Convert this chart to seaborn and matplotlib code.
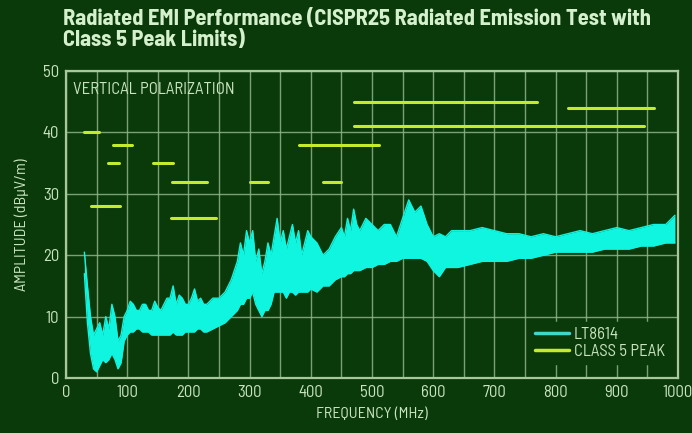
import matplotlib
matplotlib.use("Agg")
import matplotlib.pyplot as plt
import seaborn as sns
import pandas as pd
from matplotlib.ticker import MultipleLocator
from matplotlib.lines import Line2D

# ---------------- data ----------------
freq = [30, 35, 40, 45, 50, 55, 60, 65, 70, 75, 80, 85, 90, 95, 100, 105, 110, 115, 120, 125,
        130, 135, 140, 145, 150, 155, 160, 165, 170, 175, 180, 185, 190, 195, 200, 205, 210, 215,
        220, 225, 230, 240, 250, 260, 270, 280, 285, 290, 295, 300,
        305, 310, 315, 320, 325, 330, 335, 340, 345, 350, 355, 360, 365, 370, 375, 380, 385, 390,
        395, 400, 410, 420, 430, 440, 450, 455, 460, 465, 470, 475, 480, 490, 500, 510, 520, 530,
        540, 550, 560, 570, 580, 590, 600, 610, 620, 630, 640, 660, 680, 700, 720, 740, 760, 780,
        800, 820, 840, 860, 880, 900, 920, 940, 960, 980, 995]
lt_high = [20.5, 15, 10, 7, 8, 9, 7, 10, 8, 12, 10, 6, 7, 10, 11, 12.5, 12, 11, 11, 12,
           12, 11, 11, 12.5, 11.5, 11, 12, 13, 13, 15, 12, 13.5, 13, 12, 12, 13, 14.5, 12.5,
           13, 12, 12, 13, 13, 14, 16, 19, 22, 20, 24, 22,
           24, 19, 21, 17, 19, 22, 20, 23, 26, 22, 24, 21, 23, 25, 22, 24, 20, 22,
           24, 23, 22, 20, 21, 23, 24.5, 23, 26, 24, 27.5, 25, 24, 26, 25, 24, 25, 25,
           23, 26, 29, 27, 28, 25, 23, 23.5, 23, 24, 24, 24, 24.5, 24, 23.5, 23.5, 23, 23.5,
           23, 23.5, 24, 23.5, 24, 24.5, 24, 24.5, 25, 25, 26.5]
lt_low = [17, 9, 4, 1.5, 1, 2, 3, 2.5, 3, 4, 3, 1.5, 2.5, 6, 7, 7.5, 7.5, 8, 8, 7.5,
          7.5, 7.5, 7, 7, 7, 7, 7, 7, 7, 7.5, 7, 7, 7, 7.5, 7.5, 7.5, 7.5, 8,
          8, 7.5, 7.5, 8, 8.5, 9, 10, 11, 12, 12, 13, 13,
          14, 12, 11, 10, 11, 11, 12, 14, 14, 14, 14, 13, 14, 14, 13.5, 14, 14, 14,
          14, 14.5, 14, 15, 15, 16, 16.5, 16.5, 17, 17, 17.5, 17.5, 17.5, 18, 18, 18.5, 18.5, 19,
          19, 19.5, 19.5, 19.5, 19.5, 19, 17.5, 16.5, 18, 18, 18, 18.5, 19, 19, 19, 19.5, 19.5, 20,
          20.5, 20.5, 20.5, 20.5, 21, 21, 21, 21.5, 21.5, 22, 22]

seg_start = [30, 68, 76, 41, 142, 174, 171, 300, 420, 380, 470, 820, 470]
seg_end = [54, 87, 108, 88, 175, 230, 245, 330, 450, 512, 770, 960, 944]
seg_level = [40, 35, 38, 28, 35, 32, 26, 32, 32, 38, 45, 44, 41]

x_ticks = [0, 100, 200, 300, 400, 500, 600, 700, 800, 900, 1000]
y_ticks = [0, 10, 20, 30, 40, 50]

# ---------------- style ----------------
BG = "#0a3a0a"
TXT = "#c8e4c0"
GRID = "#8fb487"
CYAN = "#10f5e0"
LIME = "#c4ec2c"

sns.set_theme(style="dark")
FAMS = ["Barlow Semi Condensed", "Archivo Narrow", "Roboto Condensed",
        "Saira SemiCondensed", "DejaVu Sans"]
plt.rcParams["font.family"] = FAMS

fig = plt.figure(figsize=(6.92, 4.33), dpi=100, facecolor=BG)
ax = fig.add_axes([66 / 692, 1 - 378 / 433, 612 / 692, 307 / 433])
ax.set_facecolor(BG)

rows = []
for i, (s, e, lv) in enumerate(zip(seg_start, seg_end, seg_level)):
    rows.append({"seg": i, "f": s, "v": lv})
    rows.append({"seg": i, "f": e, "v": lv})
lim_df = pd.DataFrame(rows)

trace_df = pd.DataFrame({"f": freq, "hi": lt_high, "lo": lt_low})

ax.fill_between(trace_df["f"], trace_df["lo"], trace_df["hi"], color=CYAN, lw=0, zorder=3)
sns.lineplot(data=trace_df, x="f", y="hi", ax=ax, color=CYAN, lw=1.0, zorder=3)
sns.lineplot(data=trace_df, x="f", y="lo", ax=ax, color=CYAN, lw=1.0, zorder=3)

sns.lineplot(data=lim_df, x="f", y="v", units="seg", estimator=None, ax=ax,
             color=LIME, lw=2.2, zorder=4)

ax.set_xlim(0, 1000)
ax.set_ylim(0, 50)
ax.set_xticks(x_ticks)
ax.set_yticks(y_ticks)
ax.xaxis.set_minor_locator(MultipleLocator(50))
ax.grid(True, which="both", axis="x", color=GRID, lw=1.0, alpha=0.85, zorder=1)
ax.grid(True, which="major", axis="y", color=GRID, lw=1.0, alpha=0.85, zorder=1)
ax.set_axisbelow(True)
ax.tick_params(which="both", length=0, colors=TXT, labelsize=12, pad=5)
for lab in ax.get_xticklabels() + ax.get_yticklabels():
    lab.set_color(TXT)
for sp in ax.spines.values():
    sp.set_visible(True)
    sp.set_color("#a8c89c")
    sp.set_linewidth(1.6)

ax.set_xlabel("FREQUENCY (MHz)", color=TXT, fontsize=11.5, labelpad=5)
ax.set_ylabel("AMPLITUDE (dBµV/m)", color=TXT, fontsize=11.5, labelpad=10)

ax.text(0.012, 0.965, "VERTICAL POLARIZATION", transform=ax.transAxes, color=TXT,
        fontsize=12, va="top", ha="left")

handles = [Line2D([], [], color="#40d8c8", lw=2.5), Line2D([], [], color=LIME, lw=2.5)]
leg = ax.legend(handles, ["LT8614", "CLASS 5 PEAK"], loc="lower right",
                bbox_to_anchor=(1.0, 0.02), frameon=True, facecolor=BG, edgecolor=BG,
                framealpha=1, fontsize=12, handlelength=2.0, handletextpad=0.3,
                labelspacing=0.1, borderpad=0.3)
for t in leg.get_texts():
    t.set_color(TXT)
leg.set_zorder(5)

fig.text(63 / 692, 1 - 9 / 433,
         "Radiated EMI Performance (CISPR25 Radiated Emission Test with\nClass 5 Peak Limits)",
         color="#d4f0cc", fontsize=16.2, fontweight="bold", va="top", ha="left",
         linespacing=1.05)

fig.savefig("out.png", dpi=100, facecolor=BG)
